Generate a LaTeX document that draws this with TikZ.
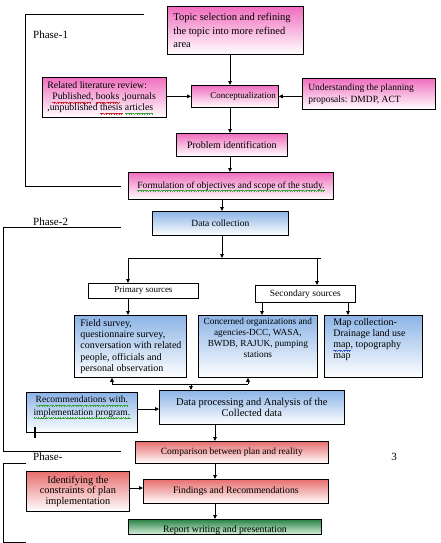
\documentclass[tikz,border=0pt]{standalone}
\usepackage{fontspec}
\setmainfont{Liberation Serif}
\usetikzlibrary{arrows.meta}
\definecolor{pinktop}{RGB}{240,110,190}
\definecolor{bluetop}{RGB}{140,180,230}
\definecolor{redtop}{RGB}{232,110,110}
\definecolor{greentop}{RGB}{40,130,70}
\definecolor{greenbot}{RGB}{215,240,220}
\definecolor{sqgreen}{RGB}{60,160,60}
\definecolor{sqred}{RGB}{200,40,40}
\definecolor{sqblue}{RGB}{60,90,200}
\newcommand\sqpat{\rule[-2.3pt]{0.6pt}{0.5pt}\rule[-2.8pt]{0.6pt}{0.5pt}\rule[-3.3pt]{0.6pt}{0.5pt}\rule[-2.8pt]{0.6pt}{0.5pt}}
\newcommand\squig[2]{\leavevmode\setbox0\hbox{#2}\rlap{\smash{\textcolor{#1}{\hbox to \wd0{\xleaders\hbox{\sqpat}\hfill}}}}\box0\relax}
\newcommand\fz[2]{\fontsize{#1}{#2}\selectfont}
\newcommand\bx[8]{\node[#1,anchor=north west,inner sep=0pt] (#2) at (#3,#4) {\parbox[c][#6pt][#7]{#5pt}{#8}};}
\begin{document}
\begin{tikzpicture}[x=1pt,y=-1pt,
  box/.style={draw,line width=0.75pt},
  pinkbox/.style={box,top color=pinktop,bottom color=white},
  bluebox/.style={box,top color=bluetop,bottom color=white},
  redbox/.style={box,top color=redtop,bottom color=white},
  greenbox/.style={box,top color=greentop,bottom color=greenbot},
  whitebox/.style={box,fill=white},
  arr/.style={-{Triangle[length=4pt,width=3.6pt]},line width=0.75pt},
  ln/.style={line width=0.75pt},
  phase/.style={font=\fz{11}{13},inner sep=0pt}]
\useasboundingbox (0,0) rectangle (441,543);

% boxes
\bx{pinkbox}{topic}{167}{6}{136}{48}{c}{\fz{10.5}{13.5}\raggedright\leftskip6pt Topic selection and refining\\ the topic into more refined\\ area}
\bx{pinkbox}{lit}{42}{77}{124}{40}{c}{\fz{9.8}{11}\raggedright\leftskip5pt Related literature review:\\ \hspace*{5pt}\squig{sqred}{Published}, \squig{sqred}{books} ,journals\\ ,unpublished \squig{sqred}{thesis} \squig{sqgreen}{articles}}
\bx{pinkbox}{concept}{191}{85}{87}{22}{c}{\fz{9}{11}\raggedright\leftskip19pt Conceptualization}
\bx{pinkbox}{under}{302}{78}{133}{31}{c}{\fz{9.5}{11.7}\raggedright\leftskip6pt Understanding the planning\\ proposals: DMDP, ACT}
\bx{pinkbox}{problem}{176}{133}{111}{23}{c}{\fz{10}{12}\centering Problem identification}
\bx{pinkbox}{formul}{128}{172}{205}{27}{c}{\fz{9.5}{12}\centering \squig{sqgreen}{Formulation of objectives and scope of the study.}}
\bx{bluebox}{data}{152}{211}{136}{24}{c}{\fz{9.5}{12}\centering Data collection}
\bx{whitebox}{primary}{88}{283}{110}{15}{c}{\fz{9}{11}\centering Primary sources}
\bx{whitebox}{secondary}{255}{285}{100}{17}{c}{\fz{9.5}{11}\centering Secondary sources}
\bx{bluebox}{field}{74}{315}{112}{62}{c}{\fz{10}{11.3}\raggedright\leftskip6pt Field survey,\\ questionnaire survey,\\ conversation with related\\ people, officials and\\ personal observation}
\bx{bluebox}{concerned}{198}{315}{119}{62}{t}{\vspace*{3pt}\fz{9.3}{10.8}\centering Concerned organizations and\\ agencies-DCC, WASA,\\ BWDB, RAJUK, pumping\\ stations}
\bx{bluebox}{map}{324}{315}{98}{62}{t}{\vspace*{3pt}\fz{10}{11.2}\raggedright\leftskip9pt Map collection-\\ Drainage land use\\ \squig{sqblue}{map}, topography\\ map}
\bx{bluebox}{rec}{26}{392}{111}{40}{t}{\vspace*{4pt}\fz{9.5}{12.5}\centering \squig{sqgreen}{Recommendations with.}\\ \squig{sqgreen}{implementation program.}}
\bx{bluebox}{dp}{159}{390}{185}{34}{c}{\fz{10.5}{11.8}\centering Data processing and Analysis of the\\ Collected data}
\bx{redbox}{comp}{135}{441}{193}{22}{c}{\fz{9.5}{11}\centering Comparison between plan and reality}
\bx{redbox}{ident}{26}{471}{103}{40}{c}{\fz{10.3}{10.8}\centering Identifying the\\ constraints of plan\\ implementation}
\bx{redbox}{findings}{143}{479}{185}{24}{c}{\fz{9.75}{11}\centering Findings and Recommendations}
\node[greenbox,anchor=north west,inner sep=0pt,minimum width=193pt,minimum height=15pt,
  path picture={\node[anchor=base,inner sep=0pt,yshift=1.5pt,font=\fz{9.75}{11}] at (path picture bounding box.south) {Report writing and presentation};}]
  (report) at (128,519) {};

% phase labels
\node[phase,anchor=west] (ph1) at (33,35) {Phase-1};
\node[phase,anchor=west] (ph2) at (33,222) {Phase-2};
\node[phase,anchor=west] (ph3) at (33,457) {Phase-};
\node[phase] (ph3n) at (394,457) {3};

% brackets
\draw[ln] (144,14) -- (25,14) -- (25,186) -- (121,186);
\draw[ln] (121,227) -- (3,227) -- (3,451) -- (121,451);
\draw[ln] (26,463) -- (3,463) -- (3,542) -- (26,542);

% helper coordinates
\coordinate (xA) at (230,0);
\coordinate (xB) at (222,0);
\coordinate (xC) at (215,0);
\coordinate (xs1) at (262,0);
\coordinate (xs2) at (348,0);
\coordinate (split) at (222,258);
\coordinate (hl) at (128,258);
\coordinate (hs) at (317,258);
\coordinate (hr) at (321,258);
\coordinate (j1) at (112,384);
\coordinate (j2) at (248,384);
\coordinate (jm) at (191,384);
\coordinate (y409) at (0,409);
\coordinate (y488) at (0,488);

% connectors
\draw[arr] (topic.south -| xA) -- (concept.north -| xA);
\draw[arr] (lit.east |- concept.west) -- (concept.west);
\draw[arr] (under.west |- concept.east) -- (concept.east);
\draw[arr] (concept.south -| xA) -- (problem.north -| xA);
\draw[arr] (problem.south -| xA) -- (formul.north -| xA);
\draw[arr] (formul.south -| xB) -- (data.north -| xB);
\draw[arr] (data.south -| split) -- (split);
\draw[ln] (hl) -- (hr);
\draw[arr] (hl) -- (primary.north -| hl);
\draw[arr] (hs) -- (secondary.north -| hs);
\draw[arr] (primary.south -| hl) -- (field.north -| hl);
\draw[arr] (secondary.south -| xs1) -- (concerned.north -| xs1);
\draw[arr] (secondary.south -| xs2) -- (map.north -| xs2);
\draw[ln] (j1) -- (j2);
\draw[arr] (j1) -- (field.south -| j1);
\draw[arr] (j2) -- (concerned.south -| j2);
\draw[arr] (jm) -- (dp.north -| jm);
\draw[arr] (rec.east |- y409) -- (dp.west |- y409);
\draw[arr] (dp.south -| xC) -- (comp.north -| xC);
\draw[arr] (comp.south -| xC) -- (findings.north -| xC);
\draw[arr] (ident.east |- y488) -- (findings.west |- y488);
\draw[arr] (findings.south -| xC) -- (report.north -| xC);

% cursor tick
\draw[line width=1.3pt] (35,427) -- (35,438);
\end{tikzpicture}
\end{document}
